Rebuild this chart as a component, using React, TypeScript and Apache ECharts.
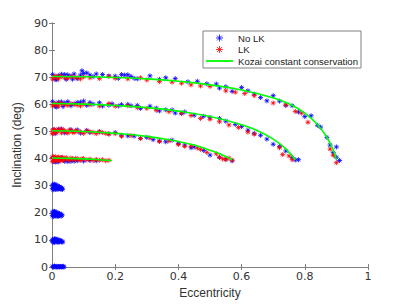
import React, { useEffect, useRef } from "react";
import * as echarts from "echarts";

// Kozai constant conservation curves (eccentricity, inclination)
const kozai70: [number, number][] = [[0,70.3],[0.1,70.2],[0.2,69.9],[0.3,69.4],[0.4,68.5],[0.5,67.2],[0.6,65.3],[0.7,62.4],[0.75,60.2],[0.8,56.8],[0.84,52.6],[0.87,47.8],[0.89,43.2],[0.9,39.6]];
const kozai60: [number, number][] = [[0,60.3],[0.1,60.1],[0.2,59.6],[0.3,58.8],[0.4,57.5],[0.5,55.5],[0.6,52.5],[0.65,50.3],[0.7,47.2],[0.74,43.6],[0.77,39.5]];
const kozai50: [number, number][] = [[0,50.3],[0.1,50.0],[0.2,49.3],[0.3,48.2],[0.4,46.3],[0.45,45.0],[0.5,43.1],[0.55,40.8],[0.57,39.5]];
const kozai40: [number, number][] = [[0,40.2],[0.05,40.1],[0.1,39.9],[0.15,39.6],[0.19,39.3]];

// No LK (blue asterisks)
const noLK0: [number, number][] = [[0.002,0.3],[0.006,0],[0.01,0.2],[0.014,0],[0.018,0.1],[0.022,0],[0.026,0.2],[0.03,0],[0.034,0.1],[0.038,0],[0.004,0.1],[0.008,0.4],[0.016,0.3],[0.024,0.1],[0.032,0.2],[0.036,0.3],[0.012,0.1],[0.02,0.2],[0.028,0.3]];
const noLK10: [number, number][] = [[0.002,10.2],[0.005,9.6],[0.008,10.4],[0.011,9.9],[0.014,10.1],[0.017,9.5],[0.02,9.8],[0.023,9.4],[0.026,9.7],[0.03,9.3],[0.034,9.2],[0.004,9.2],[0.009,9.3],[0.003,9.8],[0.006,10.3],[0.012,10.4],[0.016,9.9],[0.019,10.2],[0.022,9.1],[0.025,9.9],[0.028,9.6],[0.032,9.5],[0.013,9.4],[0.018,9.2],[0.007,9.0],[0.001,9.5]];
const noLK20: [number, number][] = [[0.002,20.3],[0.005,19.5],[0.008,20.5],[0.011,19.8],[0.014,20.2],[0.017,19.2],[0.02,19.7],[0.023,19.0],[0.026,19.4],[0.029,18.8],[0.032,19.1],[0.006,18.8],[0.012,18.9],[0.003,19.9],[0.006,20.6],[0.01,20.2],[0.015,19.6],[0.018,20.0],[0.021,19.3],[0.024,19.8],[0.027,19.1],[0.03,19.4],[0.009,19.2],[0.016,18.7],[0.001,19.0],[0.004,18.6],[0.02,18.7]];
const noLK30: [number, number][] = [[0.002,30.3],[0.005,29.4],[0.008,30.5],[0.011,29.8],[0.014,30.2],[0.017,29.1],[0.02,29.6],[0.023,28.9],[0.026,29.3],[0.029,28.7],[0.032,29.0],[0.006,28.8],[0.012,28.6],[0.003,29.9],[0.006,30.6],[0.01,30.1],[0.015,29.6],[0.018,30.0],[0.021,29.2],[0.024,29.7],[0.027,28.9],[0.03,29.3],[0.009,29.2],[0.016,28.7],[0.001,29.0],[0.004,28.5],[0.02,28.8],[0.033,28.6]];
const noLK40: [number, number][] = [[0.005,38.9],[0.02,38.8],[0.04,39.0],[0.06,39.0],[0.08,39.2],[0.1,39.1],[0.12,39.3],[0.002,40.5],[0.03,40.3],[0.012,38.7],[0.05,38.9],[0.07,39.1],[0.14,39.2]];
const noLK50: [number, number][] = [[0.005,50.6],[0.02,50.8],[0.04,49.5],[0.06,50.7],[0.09,49.4],[0.12,49.6],[0.15,49.8],[0.18,49.2],[0.22,48.6],[0.26,48.3],[0.3,47.8],[0.34,46.5],[0.38,46.8],[0.42,45.0],[0.45,44.3],[0.48,43.0],[0.5,41.3],[0.53,40.5],[0.55,39.8],[0.57,39.2],[0.01,49.2],[0.03,50.9],[0.08,50.6],[0.11,50.4],[0.2,49.6],[0.24,48.4],[0.28,47.5],[0.32,47.0],[0.36,46.2],[0.4,45.6],[0.44,44.0]];
const noLK60: [number, number][] = [[0.002,61],[0.01,59.2],[0.02,60.8],[0.04,60.5],[0.06,59.5],[0.08,60.7],[0.1,61.2],[0.13,60.1],[0.16,59.4],[0.19,60.2],[0.22,59.9],[0.25,59.5],[0.28,58.5],[0.31,59.3],[0.34,57.6],[0.36,58.0],[0.39,56.8],[0.42,57.2],[0.45,56.0],[0.48,55.6],[0.5,55.2],[0.53,54.8],[0.55,53.8],[0.58,52.6],[0.6,51.8],[0.62,50.5],[0.64,49.3],[0.66,48.6],[0.68,47.2],[0.7,45.3],[0.72,44.5],[0.74,42.8],[0.76,40.4],[0.77,39.5],[0.78,39.6],[0.03,60.9],[0.05,61.0],[0.07,60.2],[0.09,60.8],[0.12,60.7],[0.015,59.0],[0.035,59.2],[0.11,59.6],[0.15,60.6],[0.18,59.7],[0.21,59.4],[0.24,60.0],[0.27,59.6],[0.33,58.6],[0.38,57.9],[0.41,56.6]];
const noLK70: [number, number][] = [[0.002,71],[0.01,69.2],[0.02,70.6],[0.04,71.0],[0.06,70.4],[0.08,69.5],[0.095,72.4],[0.11,71.6],[0.13,70.2],[0.16,71.0],[0.18,70.5],[0.21,69.6],[0.23,70.8],[0.25,70.3],[0.27,69.4],[0.31,70.5],[0.34,69.2],[0.36,69.8],[0.39,69.5],[0.43,68.3],[0.46,68.5],[0.49,67.6],[0.52,67.5],[0.53,66.0],[0.55,66.5],[0.57,64.8],[0.6,66.2],[0.62,65.0],[0.64,63.8],[0.66,62.5],[0.68,61.3],[0.7,63.2],[0.72,61.2],[0.74,59.6],[0.76,59.5],[0.78,57.2],[0.8,55.5],[0.82,55.8],[0.84,52.3],[0.85,51.6],[0.87,47.8],[0.88,45.0],[0.89,42.2],[0.9,44.3],[0.9,40.5],[0.91,39.3],[0.03,71.1],[0.05,70.9],[0.07,71.2],[0.09,70.8],[0.015,69.1],[0.045,69.2],[0.12,70.8],[0.14,71.2],[0.2,70.4],[0.22,71.0],[0.24,70.9],[0.26,69.6],[0.1,71.4],[0.065,69.3]];

// LK (red asterisks)
const lk40: [number, number][] = [[0.002,40.4],[0.005,39.4],[0.01,40.2],[0.015,39.6],[0.02,40.4],[0.025,39.5],[0.03,40.1],[0.035,39.3],[0.04,40.0],[0.05,39.7],[0.06,40.2],[0.07,39.5],[0.08,39.9],[0.09,39.4],[0.1,40.0],[0.11,39.5],[0.12,39.8],[0.13,39.3],[0.14,39.7],[0.15,39.4],[0.16,39.6],[0.17,39.2],[0.18,39.4],[0.001,39.0],[0.004,40.8],[0.008,39.1],[0.012,40.7],[0.018,39.1],[0.022,40.6],[0.028,39.2],[0.033,40.5],[0.038,39.7],[0.045,40.4],[0.055,39.3],[0.065,39.9],[0.075,40.1],[0.085,39.6],[0.095,39.9]];
const lk50: [number, number][] = [[0.002,50.6],[0.005,49.4],[0.01,50.3],[0.015,49.6],[0.02,50.5],[0.03,49.5],[0.04,50.2],[0.05,49.4],[0.06,50.3],[0.07,49.6],[0.08,50.0],[0.1,49.3],[0.12,49.9],[0.14,49.2],[0.16,49.6],[0.18,49.0],[0.2,49.2],[0.22,48.2],[0.25,48.5],[0.28,47.4],[0.31,47.6],[0.34,46.3],[0.37,46.5],[0.4,45.2],[0.42,44.5],[0.44,44.6],[0.47,43.4],[0.49,42.3],[0.52,41.8],[0.54,39.9],[0.56,40.2],[0.57,39.4],[0.001,49.2],[0.008,50.8],[0.025,50.9],[0.035,50.7],[0.045,49.8],[0.055,50.6],[0.065,49.8],[0.075,50.4],[0.09,49.9],[0.11,50.2],[0.13,49.7],[0.15,50.0],[0.17,49.3],[0.53,40.5],[0.55,39.6],[0.46,43.9]];
const lk60: [number, number][] = [[0.002,59.4],[0.01,60.4],[0.02,59.3],[0.03,60.2],[0.05,59.6],[0.07,60.0],[0.09,59.4],[0.12,59.8],[0.15,59.4],[0.18,60.3],[0.2,59.3],[0.24,59.5],[0.27,58.8],[0.3,58.5],[0.33,57.8],[0.37,57.3],[0.41,56.8],[0.44,55.9],[0.47,54.8],[0.5,54.5],[0.53,53.6],[0.56,52.4],[0.59,51.5],[0.62,49.8],[0.64,49.0],[0.72,44.0],[0.73,41.5],[0.75,41.0],[0.76,39.6],[0.005,60.0],[0.015,59.8],[0.025,60.5],[0.04,59.9],[0.06,60.3],[0.08,59.8],[0.1,60.1]];
const lk70: [number, number][] = [[0.002,69.3],[0.01,70.5],[0.02,69.4],[0.03,70.2],[0.05,69.6],[0.07,70.0],[0.09,69.4],[0.12,69.8],[0.15,69.5],[0.18,70.3],[0.2,69.6],[0.24,69.4],[0.28,69.8],[0.3,69.0],[0.34,68.4],[0.38,68.2],[0.41,67.8],[0.44,67.2],[0.47,66.8],[0.5,66.6],[0.55,65.0],[0.58,64.5],[0.61,64.0],[0.64,63.2],[0.7,60.5],[0.74,59.8],[0.77,57.4],[0.79,56.8],[0.81,53.4],[0.88,43.5],[0.89,41.2],[0.9,38.5],[0.005,70.0],[0.015,69.9],[0.025,70.4],[0.04,69.8],[0.06,70.3],[0.08,69.8],[0.1,70.1]];

const xTicks = [0, 0.2, 0.4, 0.6, 0.8, 1];
const yTicks = [0, 10, 20, 30, 40, 50, 60, 70, 80, 90];

const seriesNames = ["No LK", "LK", "Kozai constant conservation"];

const ASTERISK = "path://M5 0L5 10M0 5L10 5M1.5 1.5L8.5 8.5M1.5 8.5L8.5 1.5";
const LINE_ICON = "path://M0 0L27 0L27 1.8L0 1.8Z";
const TICK_FONT = "DejaVu Sans";
const FONT = "Liberation Sans";
const AXIS_COLOR = "#808080";
const TEXT_COLOR = "#333333";

export default function App() {
  const ref = useRef<HTMLDivElement>(null);
  useEffect(() => {
    if (!ref.current) return;
    const chart = echarts.init(ref.current, undefined, { renderer: "svg" });
    const noLK = [...noLK0, ...noLK10, ...noLK20, ...noLK30, ...noLK40, ...noLK50, ...noLK60, ...noLK70];
    const lk = [...lk40, ...lk50, ...lk60, ...lk70];
    const kozaiSets = [kozai70, kozai60, kozai50, kozai40];
    const scatterStyle = (c: string) => ({
      color: "rgba(0,0,0,0)",
      borderColor: c,
      borderWidth: 1,
    });
    const baseAxis = {
      axisLine: { show: true, lineStyle: { color: AXIS_COLOR, width: 1 } },
      axisTick: { show: true, inside: true, length: 3, lineStyle: { color: AXIS_COLOR } },
      splitLine: { show: false },
    };
    chart.setOption({
      animation: false,
      backgroundColor: "#ffffff",
      grid: { left: 52, top: 23, right: 39, bottom: 33, show: false },
      legend: {
        data: [
          { name: seriesNames[0], icon: ASTERISK, itemStyle: scatterStyle("#0000ff") },
          { name: seriesNames[1], icon: ASTERISK, itemStyle: scatterStyle("#ff0000") },
          { name: seriesNames[2], icon: LINE_ICON, itemStyle: { color: "#00ff00", borderWidth: 0 } },
        ],
        orient: "vertical",
        left: 203,
        top: 31,
        itemWidth: 27,
        itemHeight: 7,
        itemGap: 1.5,
        padding: [2, 3, 2, 3],
        borderColor: "#808080",
        borderWidth: 1,
        backgroundColor: "#ffffff",
        textStyle: { fontFamily: FONT, fontSize: 9.6, color: "#222222" },
      },
      xAxis: [
        {
          type: "value",
          min: 0,
          max: 1,
          interval: 0.2,
          name: "Eccentricity",
          nameLocation: "middle",
          nameGap: 16,
          nameTextStyle: { fontFamily: FONT, fontSize: 12, color: TEXT_COLOR },
          ...baseAxis,
          axisLabel: {
            fontFamily: TICK_FONT,
            fontSize: 11,
            color: TEXT_COLOR,
            margin: 4,
            formatter: (v: number) => (xTicks.includes(v) ? String(v) : ""),
          },
        },
        {
          type: "value",
          min: 0,
          max: 1,
          interval: 0.2,
          position: "top",
          ...baseAxis,
          axisLabel: { show: false },
        },
      ],
      yAxis: [
        {
          type: "value",
          min: 0,
          max: 90,
          interval: 10,
          name: "Inclination (deg)",
          nameLocation: "middle",
          nameGap: 18,
          nameTextStyle: { fontFamily: FONT, fontSize: 12, color: TEXT_COLOR },
          ...baseAxis,
          axisLabel: {
            fontFamily: TICK_FONT,
            fontSize: 11,
            color: TEXT_COLOR,
            margin: 4,
            formatter: (v: number) => (yTicks.includes(v) ? String(v) : ""),
          },
        },
        {
          type: "value",
          min: 0,
          max: 90,
          interval: 10,
          position: "right",
          ...baseAxis,
          axisLabel: { show: false },
        },
      ],
      series: [
        {
          name: seriesNames[0],
          type: "scatter",
          data: noLK,
          symbol: ASTERISK,
          symbolSize: 5,
          itemStyle: scatterStyle("#0000ff"),
          clip: false,
          z: 2,
        },
        {
          name: seriesNames[1],
          type: "scatter",
          data: lk,
          symbol: ASTERISK,
          symbolSize: 5,
          itemStyle: scatterStyle("#ff0000"),
          clip: false,
          z: 3,
        },
        ...kozaiSets.map((d) => ({
          name: seriesNames[2],
          type: "line",
          data: d,
          smooth: true,
          showSymbol: false,
          symbol: "none",
          lineStyle: { color: "#00ff00", width: 1.6 },
          itemStyle: { color: "#00ff00" },
          z: 4,
        })),
      ],
    });
    return () => chart.dispose();
  }, []);
  return <div ref={ref} style={{ position: "fixed", left: 0, top: 0, width: 407, height: 304 }} />;
}
